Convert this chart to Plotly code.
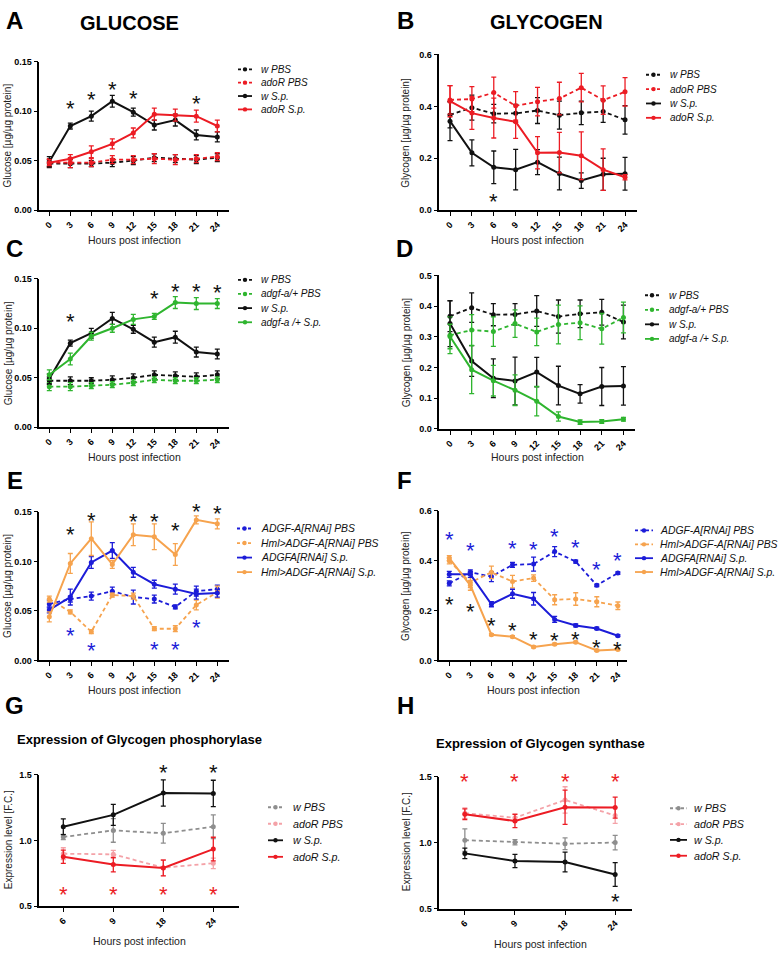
import plotly.graph_objects as go

W, H = 781, 959
FONT = "Liberation Sans, Arial, sans-serif"

HOURS = [0, 3, 6, 9, 12, 15, 18, 21, 24]
HOURS_QPCR = ["6", "9", "18", "24"]

# colours
BLACK = "#111111"
RED = "#ec1c24"
GREEN = "#2fb52f"
BLUE = "#1c1cd8"
ORANGE = "#f6a34e"
GRAY = "#8e8e8e"
PINK = "#f4a2a8"

# ---------------- Panel A : glucose, adoR ----------------
A_W_PBS = [0.047, 0.047, 0.047, 0.048, 0.050, 0.053, 0.052, 0.051, 0.053]
A_W_PBS_ERR = [0.004, 0.004, 0.003, 0.004, 0.004, 0.004, 0.004, 0.004, 0.004]
A_ADOR_PBS = [0.048, 0.048, 0.048, 0.051, 0.051, 0.052, 0.051, 0.052, 0.054]
A_ADOR_PBS_ERR = [0.004, 0.005, 0.004, 0.004, 0.004, 0.005, 0.005, 0.004, 0.004]
A_W_SP = [0.049, 0.085, 0.095, 0.110, 0.099, 0.086, 0.091, 0.076, 0.074]
A_W_SP_ERR = [0.005, 0.003, 0.005, 0.006, 0.004, 0.005, 0.006, 0.005, 0.005]
A_ADOR_SP = [0.048, 0.052, 0.059, 0.067, 0.078, 0.097, 0.096, 0.095, 0.085]
A_ADOR_SP_ERR = [0.003, 0.004, 0.006, 0.005, 0.005, 0.006, 0.006, 0.006, 0.006]
A_STAR_X = [3, 6, 9, 12, 21]
A_STAR_Y = [0.108, 0.117, 0.127, 0.118, 0.113]

# ---------------- Panel B : glycogen, adoR ----------------
B_W_PBS = [0.367, 0.395, 0.372, 0.373, 0.384, 0.366, 0.375, 0.380, 0.348]
B_W_PBS_ERR = [0.050, 0.048, 0.036, 0.035, 0.050, 0.054, 0.045, 0.042, 0.055]
B_ADOR_PBS = [0.425, 0.428, 0.453, 0.402, 0.418, 0.430, 0.472, 0.424, 0.456]
B_ADOR_PBS_ERR = [0.055, 0.048, 0.060, 0.055, 0.055, 0.063, 0.055, 0.055, 0.055]
B_W_SP = [0.343, 0.221, 0.165, 0.156, 0.185, 0.141, 0.114, 0.138, 0.140]
B_W_SP_ERR = [0.075, 0.050, 0.063, 0.078, 0.048, 0.063, 0.030, 0.062, 0.063]
B_ADOR_SP = [0.420, 0.374, 0.355, 0.341, 0.221, 0.222, 0.210, 0.156, 0.127]
B_ADOR_SP_ERR = [0.060, 0.063, 0.077, 0.064, 0.062, 0.078, 0.092, 0.080, 0.010]
B_STAR_X = [6]
B_STAR_Y = [0.053]

# ---------------- Panel C : glucose, adgf-a/+ ----------------
C_W_PBS = A_W_PBS
C_W_PBS_ERR = A_W_PBS_ERR
C_ADGF_PBS = [0.041, 0.041, 0.042, 0.043, 0.045, 0.048, 0.047, 0.047, 0.048]
C_ADGF_PBS_ERR = [0.004, 0.004, 0.003, 0.003, 0.003, 0.003, 0.003, 0.003, 0.003]
C_W_SP = A_W_SP
C_W_SP_ERR = A_W_SP_ERR
C_ADGF_SP = [0.053, 0.069, 0.092, 0.100, 0.109, 0.112, 0.126, 0.125, 0.125]
C_ADGF_SP_ERR = [0.005, 0.006, 0.004, 0.004, 0.005, 0.003, 0.006, 0.006, 0.005]
C_STAR_X = [3, 15, 18, 21, 24]
C_STAR_Y = [0.112, 0.135, 0.142, 0.142, 0.141]

# ---------------- Panel D : glycogen, adgf-a/+ ----------------
D_W_PBS = B_W_PBS
D_W_PBS_ERR = B_W_PBS_ERR
D_ADGF_PBS = [0.305, 0.322, 0.317, 0.343, 0.316, 0.340, 0.346, 0.326, 0.363]
D_ADGF_PBS_ERR = [0.060, 0.050, 0.048, 0.045, 0.045, 0.063, 0.055, 0.050, 0.050]
D_W_SP = B_W_SP
D_W_SP_ERR = B_W_SP_ERR
D_ADGF_SP = [0.301, 0.193, 0.157, 0.126, 0.090, 0.040, 0.022, 0.024, 0.031]
D_ADGF_SP_ERR = [0.040, 0.078, 0.050, 0.050, 0.048, 0.015, 0.007, 0.006, 0.006]

# ---------------- Panel E : glucose, ADGF-A RNAi ----------------
E_RNAI_PBS = [0.057, 0.062, 0.065, 0.070, 0.064, 0.062, 0.054, 0.070, 0.072]
E_RNAI_PBS_ERR = [0.004, 0.003, 0.004, 0.004, 0.007, 0.004, 0.002, 0.005, 0.004]
E_HML_PBS = [0.062, 0.049, 0.029, 0.066, 0.065, 0.032, 0.032, 0.056, 0.069]
E_HML_PBS_ERR = [0.003, 0.002, 0.002, 0.002, 0.003, 0.002, 0.003, 0.005, 0.006]
E_RNAI_SP = [0.051, 0.064, 0.099, 0.111, 0.089, 0.077, 0.072, 0.067, 0.068]
E_RNAI_SP_ERR = [0.003, 0.008, 0.006, 0.008, 0.005, 0.004, 0.005, 0.005, 0.004]
E_HML_SP = [0.044, 0.098, 0.123, 0.097, 0.127, 0.125, 0.107, 0.142, 0.138]
E_HML_SP_ERR = [0.005, 0.010, 0.017, 0.004, 0.011, 0.013, 0.011, 0.004, 0.005]
E_STAR_BLACK_X = [3, 6, 12, 15, 18, 21, 24]
E_STAR_BLACK_Y = [0.132, 0.146, 0.145, 0.145, 0.136, 0.155, 0.153]
E_STAR_BLUE_X = [3, 6, 15, 18, 21]
E_STAR_BLUE_Y = [0.030, 0.015, 0.016, 0.016, 0.038]

# ---------------- Panel F : glycogen, ADGF-A RNAi ----------------
F_RNAI_PBS = [0.309, 0.353, 0.336, 0.383, 0.386, 0.436, 0.396, 0.301, 0.350]
F_RNAI_PBS_ERR = [0.010, 0.010, 0.020, 0.010, 0.028, 0.020, 0.006, 0.005, 0.005]
F_HML_PBS = [0.399, 0.312, 0.353, 0.316, 0.330, 0.243, 0.246, 0.235, 0.219]
F_HML_PBS_ERR = [0.012, 0.020, 0.025, 0.025, 0.013, 0.020, 0.025, 0.020, 0.015]
F_RNAI_SP = [0.345, 0.345, 0.225, 0.267, 0.247, 0.164, 0.140, 0.128, 0.099]
F_RNAI_SP_ERR = [0.012, 0.012, 0.010, 0.018, 0.025, 0.012, 0.006, 0.005, 0.004]
F_HML_SP = [0.410, 0.301, 0.103, 0.095, 0.054, 0.065, 0.073, 0.040, 0.044]
F_HML_SP_ERR = [0.010, 0.020, 0.004, 0.004, 0.004, 0.004, 0.004, 0.004, 0.004]
F_STAR_BLUE_X = [0, 3, 9, 12, 15, 18, 21, 24]
F_STAR_BLUE_Y = [0.505, 0.459, 0.468, 0.465, 0.518, 0.472, 0.386, 0.419]
F_STAR_BLACK_X = [0, 3, 6, 9, 12, 15, 18, 21, 24]
F_STAR_BLACK_Y = [0.243, 0.214, 0.161, 0.141, 0.104, 0.098, 0.102, 0.071, 0.062]

# ---------------- Panel G : glycogen phosphorylase ----------------
G_W_PBS = [1.026, 1.076, 1.054, 1.104]
G_W_PBS_ERR = [0.020, 0.090, 0.075, 0.090]
G_ADOR_PBS = [0.899, 0.894, 0.793, 0.826]
G_ADOR_PBS_ERR = [0.045, 0.030, 0.060, 0.040]
G_W_SP = [1.104, 1.194, 1.360, 1.357]
G_W_SP_ERR = [0.060, 0.080, 0.100, 0.100]
G_ADOR_SP = [0.876, 0.816, 0.790, 0.934]
G_ADOR_SP_ERR = [0.050, 0.055, 0.060, 0.090]
G_STAR_RED_X = ["6", "9", "18", "24"]
G_STAR_RED_Y = [0.625, 0.625, 0.625, 0.625]
G_STAR_BLACK_X = ["18", "24"]
G_STAR_BLACK_Y = [1.553, 1.553]

# ---------------- Panel H : glycogen synthase ----------------
H_W_PBS = [1.020, 1.005, 0.993, 1.002]
H_W_PBS_ERR = [0.085, 0.020, 0.045, 0.055]
H_ADOR_PBS = [1.225, 1.190, 1.325, 1.207]
H_ADOR_PBS_ERR = [0.040, 0.030, 0.100, 0.060]
H_W_SP = [0.920, 0.862, 0.855, 0.760]
H_W_SP_ERR = [0.040, 0.050, 0.075, 0.090]
H_ADOR_SP = [1.217, 1.165, 1.270, 1.267]
H_ADOR_SP_ERR = [0.040, 0.050, 0.130, 0.080]
H_STAR_RED_X = ["6", "9", "18", "24"]
H_STAR_RED_Y = [1.50, 1.50, 1.50, 1.50]
H_STAR_BLACK_X = ["24"]
H_STAR_BLACK_Y = [0.59]

DASH = "4px,3px"

# series: (legend name, y, err, colour, dashed)
panels = [
    dict(letter="A", title="GLUCOSE", x=HOURS,
         series=[("w PBS", A_W_PBS, A_W_PBS_ERR, BLACK, True),
                 ("adoR PBS", A_ADOR_PBS, A_ADOR_PBS_ERR, RED, True),
                 ("w S.p.", A_W_SP, A_W_SP_ERR, BLACK, False),
                 ("adoR S.p.", A_ADOR_SP, A_ADOR_SP_ERR, RED, False)],
         stars=[(A_STAR_X, A_STAR_Y, BLACK)],
         ytitle="Glucose [µg/µg protein]",
         yticks=[0, 0.05, 0.10, 0.15], yfmt="{:.2f}"),
    dict(letter="B", title="GLYCOGEN", x=HOURS,
         series=[("w PBS", B_W_PBS, B_W_PBS_ERR, BLACK, True),
                 ("adoR PBS", B_ADOR_PBS, B_ADOR_PBS_ERR, RED, True),
                 ("w S.p.", B_W_SP, B_W_SP_ERR, BLACK, False),
                 ("adoR S.p.", B_ADOR_SP, B_ADOR_SP_ERR, RED, False)],
         stars=[(B_STAR_X, B_STAR_Y, BLACK)],
         ytitle="Glycogen [µg/µg protein]",
         yticks=[0, 0.2, 0.4, 0.6], yfmt="{:.1f}"),
    dict(letter="C", title=None, x=HOURS,
         series=[("w PBS", C_W_PBS, C_W_PBS_ERR, BLACK, True),
                 ("adgf-a/+ PBS", C_ADGF_PBS, C_ADGF_PBS_ERR, GREEN, True),
                 ("w S.p.", C_W_SP, C_W_SP_ERR, BLACK, False),
                 ("adgf-a /+ S.p.", C_ADGF_SP, C_ADGF_SP_ERR, GREEN, False)],
         stars=[(C_STAR_X, C_STAR_Y, BLACK)],
         ytitle="Glucose [µg/µg protein]",
         yticks=[0, 0.05, 0.10, 0.15], yfmt="{:.2f}"),
    dict(letter="D", title=None, x=HOURS,
         series=[("w PBS", D_W_PBS, D_W_PBS_ERR, BLACK, True),
                 ("adgf-a/+ PBS", D_ADGF_PBS, D_ADGF_PBS_ERR, GREEN, True),
                 ("w S.p.", D_W_SP, D_W_SP_ERR, BLACK, False),
                 ("adgf-a /+ S.p.", D_ADGF_SP, D_ADGF_SP_ERR, GREEN, False)],
         stars=[],
         ytitle="Glycogen [µg/µg protein]",
         yticks=[0, 0.1, 0.2, 0.3, 0.4, 0.5], yfmt="{:.1f}"),
    dict(letter="E", title=None, x=HOURS,
         series=[("ADGF-A[RNAi] PBS", E_RNAI_PBS, E_RNAI_PBS_ERR, BLUE, True),
                 ("Hml>ADGF-A[RNAi] PBS", E_HML_PBS, E_HML_PBS_ERR, ORANGE, True),
                 ("ADGFA[RNAi] S.p.", E_RNAI_SP, E_RNAI_SP_ERR, BLUE, False),
                 ("Hml>ADGF-A[RNAi] S.p.", E_HML_SP, E_HML_SP_ERR, ORANGE, False)],
         stars=[(E_STAR_BLACK_X, E_STAR_BLACK_Y, BLACK), (E_STAR_BLUE_X, E_STAR_BLUE_Y, BLUE)],
         ytitle="Glucose [µg/µg protein]",
         yticks=[0, 0.05, 0.10, 0.15], yfmt="{:.2f}"),
    dict(letter="F", title=None, x=HOURS,
         series=[("ADGF-A[RNAi] PBS", F_RNAI_PBS, F_RNAI_PBS_ERR, BLUE, True),
                 ("Hml>ADGF-A[RNAi] PBS", F_HML_PBS, F_HML_PBS_ERR, ORANGE, True),
                 ("ADGFA[RNAi] S.p.", F_RNAI_SP, F_RNAI_SP_ERR, BLUE, False),
                 ("Hml>ADGF-A[RNAi] S.p.", F_HML_SP, F_HML_SP_ERR, ORANGE, False)],
         stars=[(F_STAR_BLUE_X, F_STAR_BLUE_Y, BLUE), (F_STAR_BLACK_X, F_STAR_BLACK_Y, BLACK)],
         ytitle="Glycogen [µg/µg protein]",
         yticks=[0, 0.2, 0.4, 0.6], yfmt="{:.1f}"),
    dict(letter="G", title="Expression of Glycogen phosphorylase", x=HOURS_QPCR,
         series=[("w PBS", G_W_PBS, G_W_PBS_ERR, GRAY, True),
                 ("adoR PBS", G_ADOR_PBS, G_ADOR_PBS_ERR, PINK, True),
                 ("w S.p.", G_W_SP, G_W_SP_ERR, BLACK, False),
                 ("adoR S.p.", G_ADOR_SP, G_ADOR_SP_ERR, RED, False)],
         stars=[(G_STAR_RED_X, G_STAR_RED_Y, RED), (G_STAR_BLACK_X, G_STAR_BLACK_Y, BLACK)],
         ytitle="Expression level [F.C.]",
         yticks=[0.5, 1.0, 1.5], yfmt="{:.1f}"),
    dict(letter="H", title="Expression of Glycogen synthase", x=HOURS_QPCR,
         series=[("w PBS", H_W_PBS, H_W_PBS_ERR, GRAY, True),
                 ("adoR PBS", H_ADOR_PBS, H_ADOR_PBS_ERR, PINK, True),
                 ("w S.p.", H_W_SP, H_W_SP_ERR, BLACK, False),
                 ("adoR S.p.", H_ADOR_SP, H_ADOR_SP_ERR, RED, False)],
         stars=[(H_STAR_RED_X, H_STAR_RED_Y, RED), (H_STAR_BLACK_X, H_STAR_BLACK_Y, BLACK)],
         ytitle="Expression level [F.C.]",
         yticks=[0.5, 1.0, 1.5], yfmt="{:.1f}"),
]

# ---------- layout geometry (pixels) ----------
geom = [
    dict(xd=(39.3, 229), yd=(57.3, 207.3), xr=(-1.43, 25.67), yr=(0, 0.15),
         let=(15, 16), tit=(129, 18), xt=(134, 237), yt=(8, 132),
         leg=dict(l0=238, l1=252, tx=259, y0=65, dy=13.5, fs=10)),
    dict(xd=(439.3, 636.7), yd=(50, 207.3), xr=(-1.47, 25.6), yr=(0, 0.6),
         let=(405, 16), tit=(546, 17), xt=(537, 237), yt=(406, 129),
         leg=dict(l0=646, l1=661, tx=668, y0=70.5, dy=14.5, fs=10)),
    dict(xd=(39.3, 229), yd=(276.7, 426.7), xr=(-1.43, 25.67), yr=(0, 0.15),
         let=(14, 246), tit=None, xt=(134, 457), yt=(8, 352),
         leg=dict(l0=238, l1=252, tx=259, y0=277.7, dy=14.3, fs=10)),
    dict(xd=(439.3, 635), yd=(273.3, 428.3), xr=(-1.48, 25.6), yr=(0, 0.5),
         let=(404, 246), tit=None, xt=(537, 457), yt=(406, 351),
         leg=dict(l0=645, l1=659, tx=667, y0=293.3, dy=14.7, fs=10)),
    dict(xd=(39.3, 229), yd=(512.3, 662.3), xr=(-1.43, 25.67), yr=(0, 0.15),
         let=(15, 481), tit=None, xt=(134, 692), yt=(8, 587),
         leg=dict(l0=237, l1=252, tx=259, y0=529, dy=14.7, fs=10.4)),
    dict(xd=(439.3, 627), yd=(511, 662.3), xr=(-1.42, 25.3), yr=(0, 0.6),
         let=(404, 481), tit=None, xt=(533, 692), yt=(406, 587),
         leg=dict(l0=635, l1=653, tx=658, y0=531, dy=14, fs=10.4)),
    dict(xd=(39.3, 239.3), yd=(777.7, 910.7), xr=(-0.48, 3.52), yr=(0.5, 1.5),
         let=(15, 708), tit=(139.5, 742), xt=(139.5, 946), yt=(8, 844),
         leg=dict(l0=268, l1=283, tx=291, y0=810.7, dy=16.7, fs=10.7)),
    dict(xd=(439.3, 631.7), yd=(780, 913.3), xr=(-0.51, 3.33), yr=(0.5, 1.5),
         let=(405, 708), tit=(540, 746), xt=(540.5, 949), yt=(406, 846),
         leg=dict(l0=670, l1=687, tx=692, y0=811.7, dy=16, fs=10.7)),
]


def px(x):
    return x / W


def py(y):
    return 1 - y / H


fig = go.Figure()
annotations = []
shapes = []

for i, (p, g) in enumerate(zip(panels, geom), start=1):
    xa, ya = f"x{i}", f"y{i}"
    is_cat = isinstance(p["x"][0], str)
    for name, vals, err, col, dashed in p["series"]:
        fig.add_trace(go.Scatter(
            x=p["x"], y=vals, name=name, mode="lines+markers",
            line=dict(color=col, width=1.8 if dashed else 2.0, dash=DASH if dashed else "solid"),
            marker=dict(color=col, size=5, symbol="circle"),
            error_y=dict(type="data", array=err, visible=True, color=col, thickness=1.3, width=2.5),
            xaxis=xa, yaxis=ya, showlegend=False, cliponaxis=False,
        ))
    # significance stars (stars above the axis top are pinned to the top and shifted up)
    ppu = (g["yd"][1] - g["yd"][0]) / (g["yr"][1] - g["yr"][0])
    for sx, sy, scol in p["stars"]:
        for xv, yv in zip(sx, sy):
            xpos = p["x"].index(xv) if is_cat else xv
            shift = -5
            ypos = yv
            if yv > g["yr"][1]:
                shift += (yv - g["yr"][1]) * ppu
                ypos = g["yr"][1]
            annotations.append(dict(x=xpos, y=ypos, xref=xa, yref=ya, text="*", showarrow=False,
                                    font=dict(family=FONT, size=22, color=scol),
                                    xanchor="center", yanchor="middle", yshift=shift))

    xkw = dict(domain=[px(g["xd"][0]), px(g["xd"][1])], anchor=ya, range=list(g["xr"]),
               showline=True, linecolor="black", linewidth=1.6, ticks="outside", ticklen=4,
               tickwidth=1.3, tickcolor="black", showgrid=False, zeroline=False,
               tickangle=-45, tickfont=dict(family=FONT, size=9, color="black", weight="bold"))
    if is_cat:
        xkw.update(type="category")
    else:
        xkw.update(tickmode="array", tickvals=HOURS, ticktext=[str(h) for h in HOURS])
    ykw = dict(domain=[py(g["yd"][1]), py(g["yd"][0])], anchor=xa, range=list(g["yr"]),
               showline=True, linecolor="black", linewidth=1.6, ticks="outside", ticklen=4,
               tickwidth=1.3, tickcolor="black", showgrid=False, zeroline=False,
               tickmode="array", tickvals=p["yticks"],
               ticktext=[p["yfmt"].format(v) for v in p["yticks"]],
               tickfont=dict(family=FONT, size=9, color="black", weight="bold"))
    fig.update_layout(**{f"xaxis{i}": xkw, f"yaxis{i}": ykw})

    annotations.append(dict(x=px(g["let"][0]), y=py(g["let"][1]), xref="paper", yref="paper",
                            text=f"<b>{p['letter']}</b>", showarrow=False,
                            font=dict(family=FONT, size=24, color="black"),
                            xanchor="center", yanchor="middle"))
    if p["title"] and g["tit"]:
        big = p["title"].isupper()
        annotations.append(dict(x=px(g["tit"][0]), y=py(g["tit"][1]), xref="paper", yref="paper",
                                text=f"<b>{p['title']}</b>", showarrow=False,
                                font=dict(family=FONT, size=20 if big else 13, color="black"),
                                xanchor="center", yanchor="middle"))
    annotations.append(dict(x=px(g["xt"][0]), y=py(g["xt"][1]), xref="paper", yref="paper",
                            text="Hours post infection", showarrow=False,
                            font=dict(family=FONT, size=10.5, color="#222222"),
                            xanchor="center", yanchor="middle"))
    annotations.append(dict(x=px(g["yt"][0]), y=py(g["yt"][1]), xref="paper", yref="paper",
                            text=p["ytitle"], showarrow=False, textangle=-90,
                            font=dict(family=FONT, size=10, color="#222222"),
                            xanchor="center", yanchor="middle"))
    lg = g["leg"]
    for k, (name, vals, err, col, dashed) in enumerate(p["series"]):
        yy = lg["y0"] + k * lg["dy"]
        shapes.append(dict(type="line", xref="paper", yref="paper",
                           x0=px(lg["l0"]), x1=px(lg["l1"]), y0=py(yy), y1=py(yy),
                           line=dict(color=col, width=1.8, dash="3px,2.5px" if dashed else "solid")))
        cx = (lg["l0"] + lg["l1"]) / 2
        shapes.append(dict(type="circle", xref="paper", yref="paper",
                           x0=px(cx - 2.2), x1=px(cx + 2.2), y0=py(yy + 2.2), y1=py(yy - 2.2),
                           fillcolor=col, line=dict(color=col, width=0)))
        annotations.append(dict(x=px(lg["tx"]), y=py(yy), xref="paper", yref="paper",
                                text=f"<i>{name}</i>", showarrow=False,
                                font=dict(family=FONT, size=lg["fs"], color="#111111"),
                                xanchor="left", yanchor="middle"))

fig.update_layout(
    width=W, height=H, margin=dict(l=0, r=0, t=0, b=0),
    paper_bgcolor="white", plot_bgcolor="white",
    showlegend=False, annotations=annotations, shapes=shapes,
    font=dict(family=FONT),
)

# remove the browser's default 8px body margin so the figure sits at the page origin
fig.write_html("out.html", config={"displayModeBar": False},
               post_script="document.body.style.margin='0';")
